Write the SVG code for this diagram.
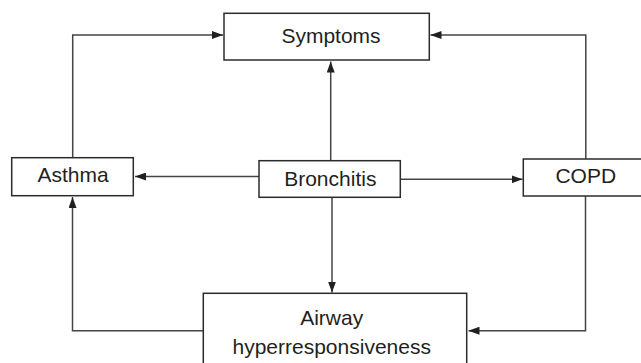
<svg xmlns="http://www.w3.org/2000/svg" width="641" height="363" viewBox="0 0 641 363">
<style>
.box{fill:#fff;stroke:#2b2b2b;stroke-width:1.5}
.lbl{font-family:"Liberation Sans",Arial,sans-serif;font-size:21px;fill:#231f20;text-anchor:middle}
.conn{fill:none;stroke:#444;stroke-width:1.5}
</style>
<defs>
<marker id="arr" markerUnits="userSpaceOnUse" markerWidth="11" markerHeight="8" refX="11" refY="4" orient="auto">
<path d="M0,0 L11,4 L0,8 z" fill="#231f20"/>
</marker>
</defs>
<rect width="641" height="363" fill="#fff"/>
<g id="connectors">
<path class="conn" d="M330.7,160.7 V61.5" marker-end="url(#arr)"/>
<path class="conn" d="M72.7,157.7 V35 H223" marker-end="url(#arr)"/>
<path class="conn" d="M585.8,159 V35 H430.5" marker-end="url(#arr)"/>
<path class="conn" d="M259,176.5 H135" marker-end="url(#arr)"/>
<path class="conn" d="M400.3,179.3 H522.5" marker-end="url(#arr)"/>
<path class="conn" d="M332,197.3 V292.5" marker-end="url(#arr)"/>
<path class="conn" d="M203.3,330.7 H72.5 V197" marker-end="url(#arr)"/>
<path class="conn" d="M585.5,196 V330.7 H468.5" marker-end="url(#arr)"/>
</g>
<g id="symptoms">
<rect class="box" x="224" y="13.3" width="205.3" height="46.7"/>
<text class="lbl" x="331" y="42.7">Symptoms</text>
</g>
<g id="asthma">
<rect class="box" x="11.7" y="157.7" width="121.6" height="38"/>
<text class="lbl" x="73" y="182.3">Asthma</text>
</g>
<g id="bronchitis">
<rect class="box" x="259" y="160.7" width="141.3" height="36.6"/>
<text class="lbl" x="330.3" y="185.7">Bronchitis</text>
</g>
<g id="copd">
<rect class="box" x="523.3" y="159" width="130" height="37"/>
<text class="lbl" x="585.8" y="183.3">COPD</text>
</g>
<g id="airway">
<rect class="box" x="203.3" y="293.3" width="263.4" height="80"/>
<text class="lbl" x="331.7" y="325">Airway</text>
<text class="lbl" x="331.7" y="354">hyperresponsiveness</text>
</g>
</svg>
